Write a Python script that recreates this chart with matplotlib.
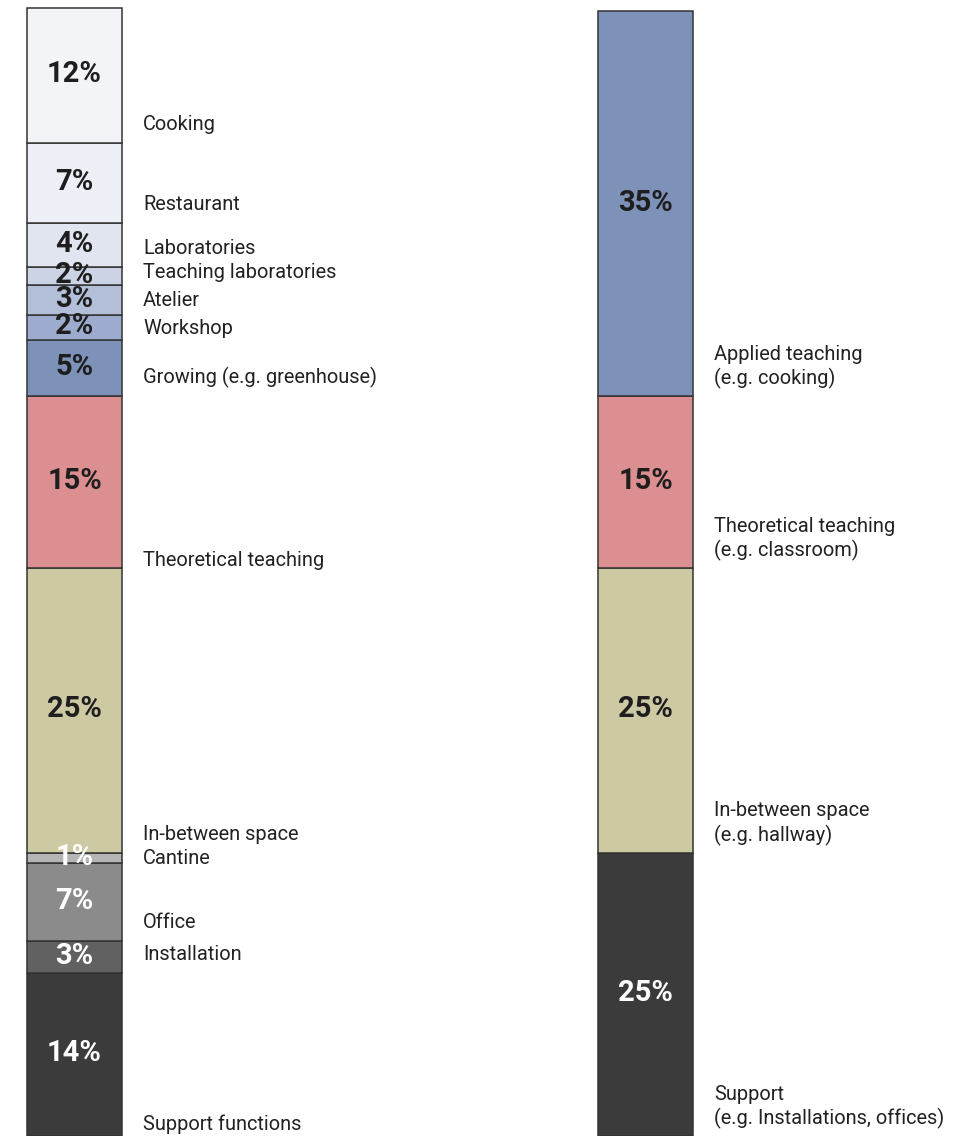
import matplotlib.pyplot as plt
import numpy as np

plt.rcParams['font.family'] = ['Roboto', 'DejaVu Sans']

# detailed breakdown, listed from the bottom of the bar upwards
detail_names = ["Support functions", "Installation", "Office", "Cantine",
                "In-between space", "Theoretical teaching",
                "Growing (e.g. greenhouse)", "Workshop", "Atelier",
                "Teaching laboratories", "Laboratories", "Restaurant", "Cooking"]
detail_values = [14.45, 2.84, 6.91, 0.89, 25.27, 15.25, 4.96, 2.22, 2.66,
                 1.60, 3.90, 7.09, 11.97]
detail_labels = ["14%", "3%", "7%", "1%", "25%", "15%", "5%", "2%", "3%",
                 "2%", "4%", "7%", "12%"]
detail_colors = ["#3b3b3b", "#616161", "#8b8b8b", "#b5b5b5", "#cdc9a3",
                 "#dc8f90", "#7d91b9", "#9dacce", "#b3bfd9", "#cbd3e4",
                 "#e0e5ef", "#eceff5", "#f3f4f8"]
detail_textcol = ["white"] * 4 + ["#1e1e1e"] * 9
# where each name sits above the bottom of its block (in %)
detail_name_off = [1.06, 1.6, 1.68, 0.44, 1.6, 0.7, 1.6, 1.06, 1.24, 1.06,
                   1.6, 1.6, 1.6]

# grouped breakdown
group_names = ["Support\n(e.g. Installations, offices)",
               "In-between space\n(e.g. hallway)",
               "Theoretical teaching\n(e.g. classroom)",
               "Applied teaching\n(e.g. cooking)"]
group_values = [25.1, 25.25, 15.25, 34.1]
group_labels = ["25%", "25%", "15%", "35%"]
group_colors = ["#3b3b3b", "#cdc9a3", "#dc8f90", "#7d91b9"]
group_textcol = ["white", "#1e1e1e", "#1e1e1e", "#1e1e1e"]

fig = plt.figure(figsize=(9.75, 11.36), dpi=100)
ax = fig.add_axes([0, 0, 1, 1])
ax.set_xlim(-0.1305, 1.577)
ax.set_ylim(0, 100.71)
ax.axis('off')

bw = 0.1664
dx = 0.12


def stack(x, values, labels, colors, textcol, names, offs, lsp=1.26):
    bottoms = np.concatenate([[0], np.cumsum(values)[:-1]])
    ax.bar(x, values, bottom=bottoms, width=bw, color=colors,
           edgecolor="#333333", linewidth=1.1)
    for b, v, lab, tc, nm, o in zip(bottoms, values, labels, textcol, names, offs):
        ax.text(x, b + v / 2 + 0.1, lab, ha="center", va="center", fontsize=21,
                fontweight="bold", color=tc)
        ax.text(x + dx, b + o, nm, ha="left", va="center", fontsize=14.4,
                color="#222222", linespacing=lsp)


stack(0, detail_values, detail_labels, detail_colors, detail_textcol,
      detail_names, detail_name_off)
stack(1, group_values, group_labels, group_colors, group_textcol,
      group_names, [2.6] * 4)

fig.savefig("out.png", dpi=100)
